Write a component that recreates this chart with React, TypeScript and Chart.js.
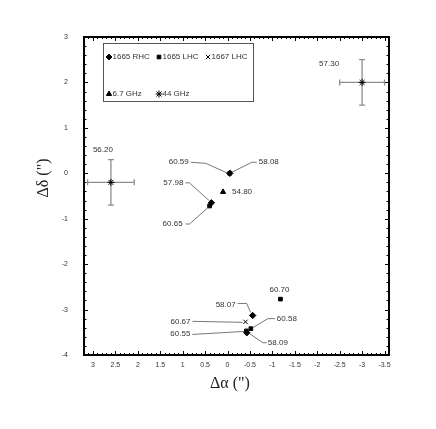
import React, { useEffect, useRef } from 'react';
import { Chart, registerables } from 'chart.js';
import { drawPoint } from 'chart.js/helpers';

Chart.register(...registerables);

// ---- axis ranges and tick labels ----
const xRange = [-3.6, 3.2];
const yRange = [-4, 3];
const xTickValues = [3, 2.5, 2, 1.5, 1, 0.5, 0, -0.5, -1, -1.5, -2, -2.5, -3, -3.5];
const yTickValues = [3, 2, 1, 0, -1, -2, -3, -4];

// ---- data: 1665 MHz RHC (diamonds) ----
const rhcX = [-0.05, 0.36, -0.56, -0.43];
const rhcY = [0.0, -0.65, -3.13, -3.51];
const rhcVel = ['58.08', '57.98', '58.07', '58.09'];

// ---- 1665 MHz LHC (squares) ----
const lhcX = [-0.05, 0.4, -0.52, -0.42, -1.18];
const lhcY = [0.0, -0.72, -3.42, -3.47, -2.77];
const lhcVel = ['60.59', '60.65', '60.58', '60.55', '60.70'];

// ---- 1667 MHz LHC ----
const l1667X = [-0.4];
const l1667Y = [-3.27];
const l1667Vel = ['60.67'];

// ---- 6.7 GHz methanol ----
const m67X = [0.1];
const m67Y = [-0.41];
const m67Vel = ['54.80'];

// ---- 44 GHz methanol with error bars ----
const k44X = [2.6, -3.0];
const k44Y = [-0.2, 2.0];
const k44XErr = [0.52, 0.5];
const k44YErr = [0.5, 0.5];
const k44Vel = ['56.20', '57.30'];

// ---- label layout (pixel offsets relative to the marker) ----
type Lab = { t: [number, number]; align: CanvasTextAlign; path?: [number, number][] };
const labelLayout: Record<string, Lab> = {
  '58.08': { t: [29, -11], align: 'left', path: [[2, -1], [22, -11], [27, -11]] },
  '60.59': { t: [-41, -11], align: 'right', path: [[-39, -11], [-24, -10], [-2, 0]] },
  '57.98': { t: [-28, -20], align: 'right', path: [[-26, -20], [-22, -20], [-2, -2]] },
  '60.65': { t: [-27, 18], align: 'right', path: [[-24, 18], [-20, 18], [-1, 1]] },
  '54.80': { t: [9, 0], align: 'left' },
  '58.07': { t: [-17, -11], align: 'right', path: [[-15, -12], [-6, -12], [-2, -3]] },
  '60.67': { t: [-55, 0], align: 'right', path: [[-53, -0.5], [-3, 0.5]] },
  '60.58': { t: [26, -10], align: 'left', path: [[2, -1], [17, -10], [24, -10]] },
  '60.55': { t: [-56, 3], align: 'right', path: [[-54, 3.5], [-2, 0.5]] },
  '58.09': { t: [21, 10], align: 'left', path: [[3, 1], [16, 10], [20, 10]] },
  '60.70': { t: [-1, -9], align: 'center' },
  '56.20': { t: [-8, -33], align: 'center' },
  '57.30': { t: [-33, -19], align: 'center' },
};

const pts = (xs: number[], ys: number[]) => xs.map((x, i) => ({ x, y: ys[i] }));

const groups = [
  { xs: rhcX, ys: rhcY, vel: rhcVel },
  { xs: lhcX, ys: lhcY, vel: lhcVel },
  { xs: l1667X, ys: l1667Y, vel: l1667Vel },
  { xs: m67X, ys: m67Y, vel: m67Vel },
  { xs: k44X, ys: k44Y, vel: k44Vel },
];

const SANS = '"Liberation Sans", Arial, sans-serif';
const SERIF = '"Liberation Serif", "Times New Roman", serif';

const decor = {
  id: 'decor',
  beforeDatasetsDraw(chart: any) {
    const { ctx, scales } = chart;
    const x = scales.x, y = scales.y;
    ctx.save();
    ctx.strokeStyle = '#8e8e8e';
    ctx.lineWidth = 1.3;
    k44X.forEach((vx, i) => {
      const cx = x.getPixelForValue(vx);
      const cy = y.getPixelForValue(k44Y[i]);
      const x1 = x.getPixelForValue(vx - k44XErr[i]);
      const x2 = x.getPixelForValue(vx + k44XErr[i]);
      const y1 = y.getPixelForValue(k44Y[i] + k44YErr[i]);
      const y2 = y.getPixelForValue(k44Y[i] - k44YErr[i]);
      ctx.beginPath();
      ctx.moveTo(x1, cy); ctx.lineTo(x2, cy);
      ctx.moveTo(cx, y1); ctx.lineTo(cx, y2);
      ctx.moveTo(x1, cy - 3); ctx.lineTo(x1, cy + 3);
      ctx.moveTo(x2, cy - 3); ctx.lineTo(x2, cy + 3);
      ctx.moveTo(cx - 3, y1); ctx.lineTo(cx + 3, y1);
      ctx.moveTo(cx - 3, y2); ctx.lineTo(cx + 3, y2);
      ctx.stroke();
    });
    ctx.restore();
  },
  afterDraw(chart: any) {
    const { ctx, chartArea: a, scales } = chart;
    const x = scales.x, y = scales.y;
    ctx.save();
    // frame
    ctx.strokeStyle = '#000';
    ctx.lineWidth = 2;
    ctx.strokeRect(a.left, a.top, a.right - a.left, a.bottom - a.top);
    // inward ticks
    ctx.lineWidth = 1;
    ctx.beginPath();
    for (let i = -36; i <= 32; i++) {
      const px = Math.round(x.getPixelForValue(i / 10)) + 0.5;
      const len = i % 5 === 0 ? 4 : 2;
      ctx.moveTo(px, a.bottom); ctx.lineTo(px, a.bottom - len);
      ctx.moveTo(px, a.top); ctx.lineTo(px, a.top + len);
    }
    for (let i = -20; i <= 15; i++) {
      const py = Math.round(y.getPixelForValue(i / 5)) + 0.5;
      const len = i % 5 === 0 ? 4 : 2.5;
      ctx.moveTo(a.left, py); ctx.lineTo(a.left + len, py);
      ctx.moveTo(a.right, py); ctx.lineTo(a.right - len, py);
    }
    ctx.stroke();

    // velocity labels and leader lines
    ctx.font = `8px ${SANS}`;
    ctx.fillStyle = '#333';
    ctx.textBaseline = 'middle';
    ctx.strokeStyle = '#555';
    ctx.lineWidth = 0.8;
    groups.forEach(g => {
      g.xs.forEach((vx, i) => {
        const lab = labelLayout[g.vel[i]];
        if (!lab) return;
        const px = x.getPixelForValue(vx);
        const py = y.getPixelForValue(g.ys[i]);
        if (lab.path) {
          ctx.beginPath();
          lab.path.forEach(([dx, dy], k) => {
            if (k === 0) ctx.moveTo(px + dx, py + dy); else ctx.lineTo(px + dx, py + dy);
          });
          ctx.stroke();
        }
        ctx.textAlign = lab.align;
        ctx.fillText(g.vel[i], px + lab.t[0], py + lab.t[1]);
      });
    });

    // legend
    ctx.strokeStyle = '#555';
    ctx.lineWidth = 1;
    ctx.strokeRect(103.5, 43.5, 150, 58);
    const leg = [
      { s: 'rectRot', r: 3, mx: 109, y: 57, t: '1665 RHC' },
      { s: 'rect', r: 2.6, mx: 159, y: 57, t: '1665 LHC' },
      { s: 'crossRot', r: 3, mx: 208, y: 57, t: '1667 LHC' },
      { s: 'triangle', r: 3, mx: 109, y: 94, t: '6.7 GHz' },
      { s: 'star', r: 3.5, mx: 159, y: 94, t: '44 GHz' },
    ];
    ctx.textAlign = 'left';
    leg.forEach(l => {
      ctx.fillStyle = '#000';
      ctx.strokeStyle = '#000';
      ctx.lineWidth = 1;
      drawPoint(ctx, { pointStyle: l.s, radius: l.r, rotation: 0, borderWidth: 1 } as any, l.mx, l.y);
      ctx.fillStyle = '#333';
      ctx.fillText(l.t, l.mx + 3.5, l.y);
    });

    // axis titles
    ctx.fillStyle = '#222';
    ctx.font = `16px ${SERIF}`;
    ctx.textAlign = 'center';
    ctx.fillText('Δα (")', 230, 384);
    ctx.translate(44, 178);
    ctx.rotate(-Math.PI / 2);
    ctx.fillText('Δδ (")', 0, 0);
    ctx.restore();
  },
};

export default function App() {
  const ref = useRef<HTMLCanvasElement>(null);
  useEffect(() => {
    if (!ref.current) return;
    const mk = (xs: number[], ys: number[], style: string, r: number, bw: number) => ({
      data: pts(xs, ys),
      pointStyle: style,
      pointRadius: r,
      pointBorderWidth: bw,
      backgroundColor: '#000',
      borderColor: '#000',
      showLine: false,
    });
    const chart = new Chart(ref.current, {
      type: 'scatter',
      data: {
        datasets: [
          { label: '1665 RHC', ...mk(rhcX, rhcY, 'rectRot', 3.2, 1) },
          { label: '1665 LHC', ...mk(lhcX, lhcY, 'rect', 2.6, 1) },
          { label: '1667 LHC', ...mk(l1667X, l1667Y, 'crossRot', 3, 1) },
          { label: '6.7 GHz', ...mk(m67X, m67Y, 'triangle', 3, 1) },
          { label: '44 GHz', ...mk(k44X, k44Y, 'star', 3.5, 1) },
        ] as any,
      },
      options: {
        animation: false,
        responsive: false,
        layout: { padding: { top: 37, right: 47, left: 0, bottom: 0 } },
        plugins: { legend: { display: false }, tooltip: { enabled: false } },
        scales: {
          x: {
            type: 'linear',
            min: xRange[0],
            max: xRange[1],
            reverse: true,
            grid: { display: false, drawTicks: false },
            border: { display: false },
            afterBuildTicks: (s: any) => { s.ticks = xTickValues.map(v => ({ value: v })); },
            afterFit: (s: any) => { s.height = 74; },
            ticks: {
              autoSkip: false,
              maxRotation: 0,
              padding: 6,
              color: '#333',
              font: { size: 7, family: SANS },
              callback: (v: any) => String(v),
            },
          },
          y: {
            type: 'linear',
            min: yRange[0],
            max: yRange[1],
            grid: { display: false, drawTicks: false },
            border: { display: false },
            afterBuildTicks: (s: any) => { s.ticks = yTickValues.map(v => ({ value: v })); },
            afterFit: (s: any) => { s.width = 84; },
            ticks: {
              autoSkip: false,
              padding: 16,
              color: '#333',
              font: { size: 7, family: SANS },
              callback: (v: any) => String(v),
            },
          },
        },
      } as any,
      plugins: [decor],
    });
    return () => chart.destroy();
  }, []);
  return (
    <div style={{ position: 'fixed', left: 0, top: 0, width: 436, height: 429, background: '#fff' }}>
      <canvas ref={ref} width={436} height={429} style={{ display: 'block' }} />
    </div>
  );
}
